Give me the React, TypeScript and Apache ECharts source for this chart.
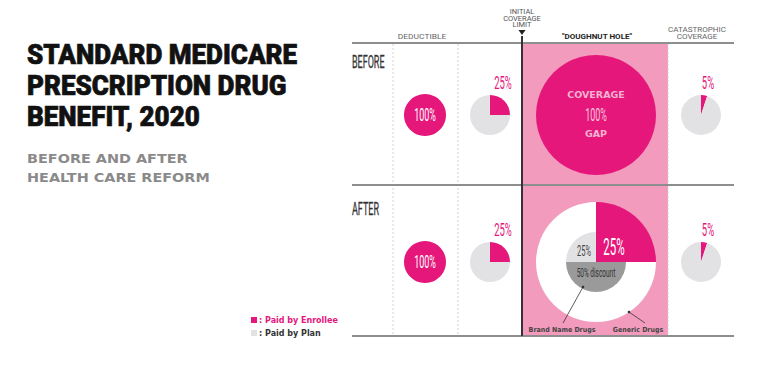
import React, { useEffect, useRef } from 'react';
import * as echarts from 'echarts';

// ---- data ----
const stageHeaders = ['DEDUCTIBLE', 'INITIAL\nCOVERAGE\nLIMIT', '"DOUGHNUT HOLE"', 'CATASTROPHIC\nCOVERAGE'];
const periods = ['BEFORE', 'AFTER'];
const enrolleeBefore = [100, 25, 100, 5];
const enrolleeAfter = [100, 25, 25, 5];
// inner circle of the reformed doughnut hole (brand-name drugs)
const brandShares = [25, 50, 25];
const brandNames = ['Paid by Enrollee', '50% discount', 'Paid by Plan'];
const legendNames = ['Paid by Enrollee', 'Paid by Plan'];
const titleLines = ['STANDARD MEDICARE', 'PRESCRIPTION DRUG', 'BENEFIT, 2020'];
const subtitleLines = ['BEFORE AND AFTER', 'HEALTH CARE REFORM'];

// ---- styles ----
const MAG = '#e5177b';
const PINK = '#f29bbd';
const LGREY = '#e2e2e4';
const DGREY = '#9a9a9a';

const colX = [425, 490, 596, 701];
const rowY = [115, 262];
const radii = [21, 20, 60, 20];

function txt(text: string, x: number, y: number, font: string, fill: string, align = 'center', scaleX = 1, extra: any = {}) {
  return {
    type: 'text', x, y, scaleX, z: 50,
    style: { text, font, fill, align, textAlign: align, verticalAlign: 'middle', textVerticalAlign: 'middle', ...extra },
  };
}

function sharePie(id: string, enrollee: number, cx: number, cy: number, r: number, restName = 'Paid by Plan', restColor = LGREY) {
  return {
    type: 'pie', id, center: [cx, cy], radius: [0, r], startAngle: 90, clockwise: true,
    silent: true, label: { show: false }, labelLine: { show: false }, minAngle: 0,
    stillShowZeroSum: true, avoidLabelOverlap: false,
    emphasis: { disabled: true },
    itemStyle: { borderWidth: 0 },
    data: [
      { value: enrollee, name: 'Paid by Enrollee', itemStyle: { color: MAG } },
      { value: 100 - enrollee, name: restName, itemStyle: { color: restColor } },
    ],
  };
}

export default function App() {
  const ref = useRef<HTMLDivElement>(null);
  useEffect(() => {
    document.body.style.margin = '0';
    const chart = echarts.init(ref.current!, null, { renderer: 'svg' });
    const series: any[] = [];
    const graphic: any[] = [];

    // background frame
    graphic.push({ type: 'rect', shape: { x: 523, y: 43, width: 145, height: 293 }, style: { fill: PINK }, z: -10 });
    [393, 458, 668].forEach((x) => graphic.push({ type: 'line', shape: { x1: x, y1: 44, x2: x, y2: 336 }, style: { stroke: '#d0d0d0', lineWidth: 1, lineDash: [2, 2] }, z: -5 }));
    [43, 185, 336].forEach((y) => graphic.push({ type: 'line', shape: { x1: 352, y1: y, x2: 734, y2: y }, style: { stroke: '#8e8e8e', lineWidth: 2 }, z: -4 }));
    graphic.push({ type: 'line', shape: { x1: 522, y1: 36, x2: 522, y2: 336 }, style: { stroke: '#333', lineWidth: 2 }, z: -3 });
    graphic.push({ type: 'polygon', shape: { points: [[518.5, 30], [525.5, 30], [522, 35]] }, style: { fill: '#222' }, z: 10 });

    // title
    titleLines.forEach((l, i) => graphic.push(txt(l, 27, 55 + i * 31, '900 28px Roboto', '#111', 'left', 0.93, { stroke: '#111', lineWidth: 0.7 })));
    subtitleLines.forEach((l, i) => graphic.push(txt(l, 27, 159 + i * 19, 'bold 12px "DejaVu Sans"', '#8a8a8a', 'left', 1.2)));

    // headers
    graphic.push(txt(stageHeaders[0], 422, 37, '7px Roboto', '#666', 'center', 1.2));
    stageHeaders[1].split('\n').forEach((l, i) => graphic.push(txt(l, 522, 12 + i * 6.7, '6.5px Roboto', '#555', 'center', 1.15)));
    graphic.push(txt(stageHeaders[2], 597, 37, 'bold 7px Roboto', '#222', 'center', 1.15));
    stageHeaders[3].split('\n').forEach((l, i) => graphic.push(txt(l, 697, 30 + i * 6.7, '7px Roboto', '#666', 'center', 1.15)));

    // row labels
    periods.forEach((p, i) => graphic.push(txt(p, 352, [62, 209][i], '18px Roboto', '#333', 'left', 0.5, { stroke: '#333', lineWidth: 0.3 })));

    const rows = [enrolleeBefore, enrolleeAfter];
    rows.forEach((vals, ri) => {
      vals.forEach((v, ci) => {
        const cx = colX[ci];
        const cy = rowY[ri];
        if (ci === 2 && ri === 1) {
          series.push(sharePie('hole-after-outer', v, cx, cy, radii[ci], 'Generic Drugs', '#ffffff'));
          series.push({
            type: 'pie', id: 'hole-after-inner', center: [cx, cy], radius: [0, 30], startAngle: 90,
            silent: true, label: { show: false }, labelLine: { show: false }, emphasis: { disabled: true },
            itemStyle: { borderWidth: 0 },
            data: brandShares.map((s, k) => ({ value: s, name: brandNames[k], itemStyle: { color: [MAG, DGREY, LGREY][k] } })),
          });
          graphic.push(txt(`${v}%`, 614, 247, '23px Roboto', '#ffffff', 'center', 0.5));
          graphic.push(txt(`${brandShares[2]}%`, 584, 251, '15px Roboto', '#444', 'center', 0.5));
          graphic.push(txt(`${brandShares[1]}% discount`, 596, 273, '13px Roboto', '#333', 'center', 0.5));
        } else {
          series.push(sharePie(`p-${ri}-${ci}`, v, cx, cy, radii[ci]));
          if (ci === 0) {
            graphic.push(txt(`${v}%`, cx, cy, '18px Roboto', '#ffffff', 'center', 0.5));
          } else if (ci === 2) {
            graphic.push(txt('COVERAGE', cx, cy - 21, 'bold 9.5px "DejaVu Sans"', '#f7b3d1', 'center', 1.0));
            graphic.push(txt(`${v}%`, cx, cy, '18px Roboto', '#f7c6dc', 'center', 0.5));
            graphic.push(txt('GAP', cx, cy + 18, 'bold 9.5px "DejaVu Sans"', '#f7b3d1', 'center', 1.0));
          } else {
            graphic.push(txt(`${v}%`, cx + (ci === 1 ? 13 : 7), cy - 32, '19px Roboto', MAG, 'center', 0.5));
          }
        }
      });
    });

    // annotations
    graphic.push({ type: 'line', shape: { x1: 583, y1: 287, x2: 563, y2: 323 }, style: { stroke: '#333', lineWidth: 0.8 }, z: 40 });
    graphic.push({ type: 'circle', shape: { cx: 583, cy: 287, r: 1.3 }, style: { fill: '#333' }, z: 40 });
    graphic.push({ type: 'line', shape: { x1: 629, y1: 312, x2: 645, y2: 323 }, style: { stroke: '#333', lineWidth: 0.8 }, z: 40 });
    graphic.push({ type: 'circle', shape: { cx: 629, cy: 312, r: 1.3 }, style: { fill: '#333' }, z: 40 });
    graphic.push(txt('Brand Name Drugs', 562, 330, 'bold 7px "DejaVu Sans"', '#444', 'center', 0.9));
    graphic.push(txt('Generic Drugs', 638, 330, 'bold 7px "DejaVu Sans"', '#444', 'center', 0.9));

    chart.setOption({
      animation: false,
      backgroundColor: '#ffffff',
      legend: {
        orient: 'vertical', left: 251, top: 316, icon: 'rect', itemWidth: 6, itemHeight: 6, itemGap: 5,
        selectedMode: false, padding: 0,
        formatter: ': {name}',
        textStyle: { fontSize: 8, fontWeight: 'bold', fontFamily: 'DejaVu Sans', padding: [0, 0, 0, -3] },
        data: [
          { name: legendNames[0], textStyle: { color: MAG } },
          { name: legendNames[1], textStyle: { color: '#333' } },
        ],
      },
      series,
      graphic: { elements: graphic },
    });
    return () => chart.dispose();
  }, []);
  return <div ref={ref} style={{ width: 760, height: 380 }} />;
}
